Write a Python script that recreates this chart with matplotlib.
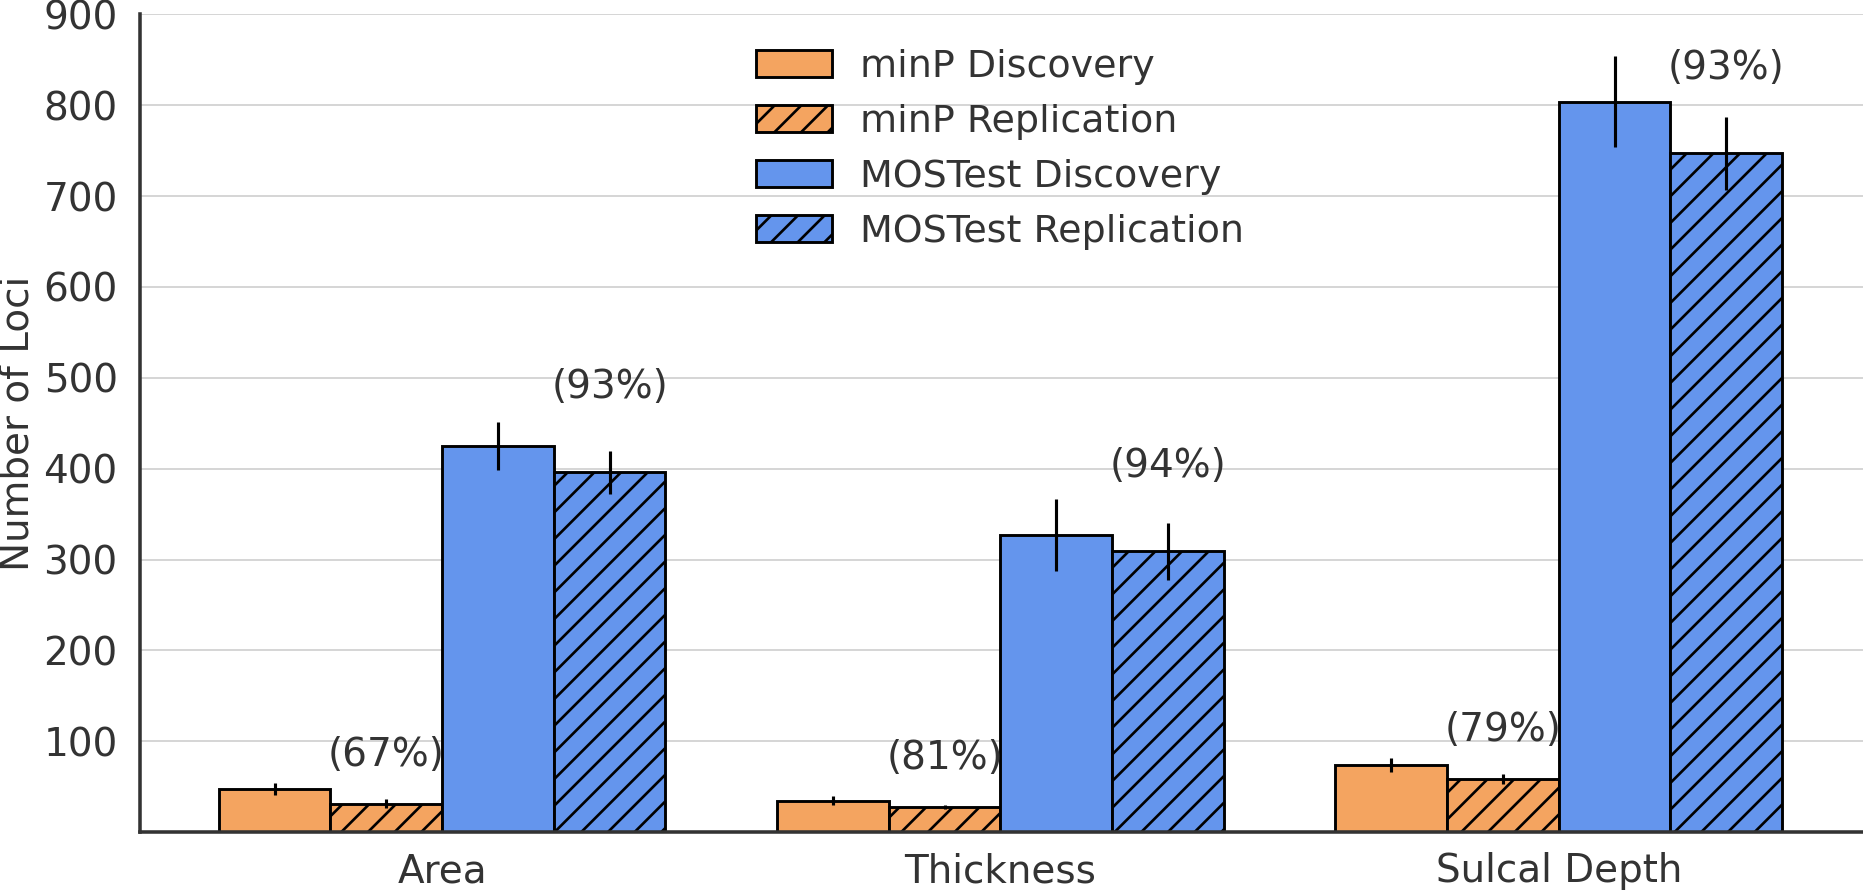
import numpy as np
import matplotlib
matplotlib.use("Agg")
import matplotlib.pyplot as plt

# values
phenotypes = ['Area', 'Thickness', 'Sulcal Depth']
minp_disc = [47.5, 34.7, 74.0]
minp_disc_err = [6.4, 5.0, 7.5]
minp_rep = [31.4, 27.7, 58.5]
minp_rep_err = [4.6, 2.0, 5.0]
most_disc = [425, 327, 804]
most_disc_err = [26.4, 40.0, 50.0]
most_rep = [396, 309, 747]
most_rep_err = [23.5, 31.6, 40.0]
minp_pct = ['(67%)', '(81%)', '(79%)']
most_pct = ['(93%)', '(94%)', '(93%)']
yticks = [100, 200, 300, 400, 500, 600, 700, 800, 900]

DPI = 160
FS = 17.5
TXT = '#333333'
ORANGE = '#F4A460'
BLUE = '#6495ED'

plt.rcParams['hatch.linewidth'] = 1.2
plt.rcParams['hatch.color'] = 'black'

fig = plt.figure(figsize=(1863 / DPI, 891 / DPI), dpi=DPI)
ax = fig.add_axes([140 / 1863, 1 - 832.2 / 891, 1 - 140 / 1863, (832.2 - 14.3) / 891])

x = np.arange(len(phenotypes))
w = 0.2
ekw = dict(elinewidth=1.4, ecolor='black', capsize=0)
series = [
    (minp_disc, minp_disc_err, ORANGE, '', 'minP Discovery'),
    (minp_rep, minp_rep_err, ORANGE, '//', 'minP Replication'),
    (most_disc, most_disc_err, BLUE, '', 'MOSTest Discovery'),
    (most_rep, most_rep_err, BLUE, '//', 'MOSTest Replication'),
]
for i, (vals, errs, col, hatch, lab) in enumerate(series):
    ax.bar(x + (i - 1.5) * w, vals, w, yerr=errs, color=col, hatch=hatch,
           edgecolor='black', linewidth=1.3, label=lab, error_kw=ekw, zorder=2)

# replication rate labels above the replication bars
for i in range(len(phenotypes)):
    ax.text(x[i] - 0.5 * w, minp_rep[i] + 54, minp_pct[i], ha='center', va='center',
            fontsize=FS, color=TXT, zorder=3)
    ax.text(x[i] + 1.5 * w, most_rep[i] + 94, most_pct[i], ha='center', va='center',
            fontsize=FS, color=TXT, zorder=3)

ax.set_xlim(-0.541, 2.545)
ax.set_ylim(0, 900)
ax.set_yticks(yticks)
ax.set_xticks(x)
ax.set_xticklabels(phenotypes)
ax.tick_params(axis='both', length=0, labelsize=FS, labelcolor=TXT)
ax.tick_params(axis='y', pad=10)
ax.tick_params(axis='x', pad=9)
ax.set_ylabel('Number of Loci', fontsize=FS, color=TXT, labelpad=3)

ax.yaxis.grid(True, color='#d6d6d6', linewidth=0.9)
ax.set_axisbelow(True)
for s in ['top', 'right']:
    ax.spines[s].set_visible(False)
for s in ['left', 'bottom']:
    ax.spines[s].set_color(TXT)
    ax.spines[s].set_linewidth(1.6)

fig.legend(loc='upper left', bbox_to_anchor=(741 / 1863, 0.962), frameon=False,
           fontsize=17.1, labelcolor=TXT, borderaxespad=0, labelspacing=0.5,
           handletextpad=0.72)

fig.savefig('out.png', dpi=DPI)
